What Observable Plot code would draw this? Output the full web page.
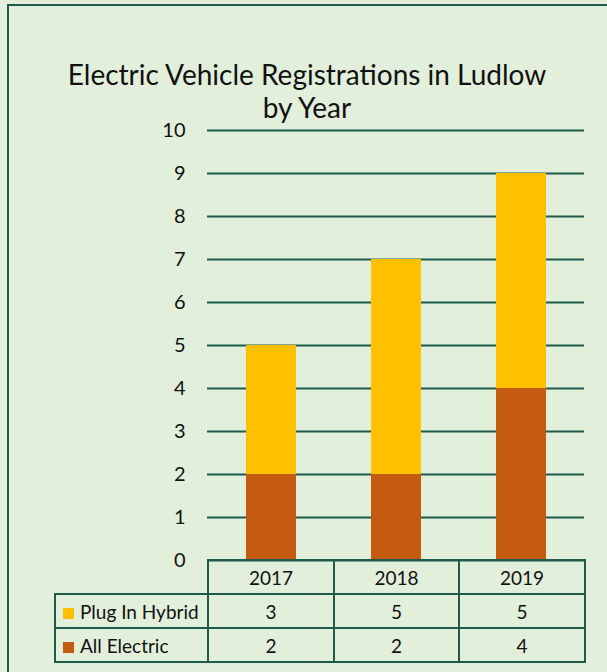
<!DOCTYPE html>
<html>
<head>
<meta charset="utf-8">
<script src="https://cdn.jsdelivr.net/npm/d3@7"></script>
<script src="https://cdn.jsdelivr.net/npm/@observablehq/plot@0.6"></script>
<style>
  html, body { margin: 0; padding: 0; background: #E2EFDA; }
  body { width: 607px; height: 672px; overflow: hidden; position: relative; font-family: Lato, "Open Sans", sans-serif; }
  #frame { position: absolute; left: 7px; top: 4px; width: 640px; height: 700px; border: 2.5px solid #1E5B4C; box-sizing: border-box; }
  #title { position: absolute; left: 0; width: 614px; top: 58px; text-align: center; font-size: 28px; line-height: 33px; color: #111; }
  #chart { position: absolute; left: 0; top: 110px; }
  #chart svg { overflow: visible; }
  #chart svg text { font-size: 20px; }
  table { position: absolute; left: 54px; top: 559px; border-collapse: collapse; table-layout: fixed; font-size: 19px; color: #111; }
  tr { height: 34px; }
  td { border: 2px solid #1E5B4C; padding: 0; text-align: center; }
  td.empty { border: none; border-bottom: 2px solid #1E5B4C; }
  td.lab { text-align: left; padding-left: 7px; white-space: nowrap; }
  .sw { display: inline-block; width: 11px; height: 11px; margin-right: 6px; vertical-align: 0px; }
</style>
</head>
<body>
<div id="frame"></div>
<div id="title">Electric Vehicle Registrations in Ludlow<br>by Year</div>
<div id="chart"></div>
<table id="tbl">
  <colgroup><col style="width:153px"><col style="width:126px"><col style="width:125px"><col style="width:126px"></colgroup>
</table>
<script>
const years = ["2017", "2018", "2019"];
const seriesNames = ["Plug In Hybrid", "All Electric"];
const plugInHybrid = [3, 5, 5];
const allElectric = [2, 2, 4];
const yTicks = [0, 1, 2, 3, 4, 5, 6, 7, 8, 9, 10];
const colors = ["#FFC000", "#C55A11"];
const grid = "#1E5B4C";

const rows = [];
years.forEach((y, i) => {
  rows.push({year: y, series: "All Electric", value: allElectric[i]});
  rows.push({year: y, series: "Plug In Hybrid", value: plugInHybrid[i]});
});

const plot = Plot.plot({
  width: 607,
  height: 460,
  marginLeft: 207,
  marginRight: 23,
  marginTop: 20,
  marginBottom: 10,
  style: {background: "transparent", fontSize: "20px", fontFamily: "Lato, 'Open Sans', sans-serif", color: "#111", overflow: "visible"},
  x: {domain: years, paddingInner: 0.6, paddingOuter: 0.3, axis: null},
  y: {domain: [0, 10], ticks: yTicks, tickSize: 0, tickPadding: 22, label: null},
  color: {domain: seriesNames, range: colors},
  marks: [
    Plot.ruleY(yTicks, {stroke: grid, strokeWidth: 2}),
    Plot.barY(rows, {x: "year", y: "value", fill: "series"})
  ]
});
document.getElementById("chart").appendChild(plot);

const tbl = document.getElementById("tbl");
let html = "<tr><td class='empty'></td>" + years.map(y => `<td>${y}</td>`).join("") + "</tr>";
const vals = [plugInHybrid, allElectric];
seriesNames.forEach((s, k) => {
  html += `<tr><td class='lab'><span class='sw' style='background:${colors[k]}'></span>${s}</td>` +
    vals[k].map(v => `<td>${v}</td>`).join("") + "</tr>";
});
tbl.insertAdjacentHTML("beforeend", html);
</script>
</body>
</html>
